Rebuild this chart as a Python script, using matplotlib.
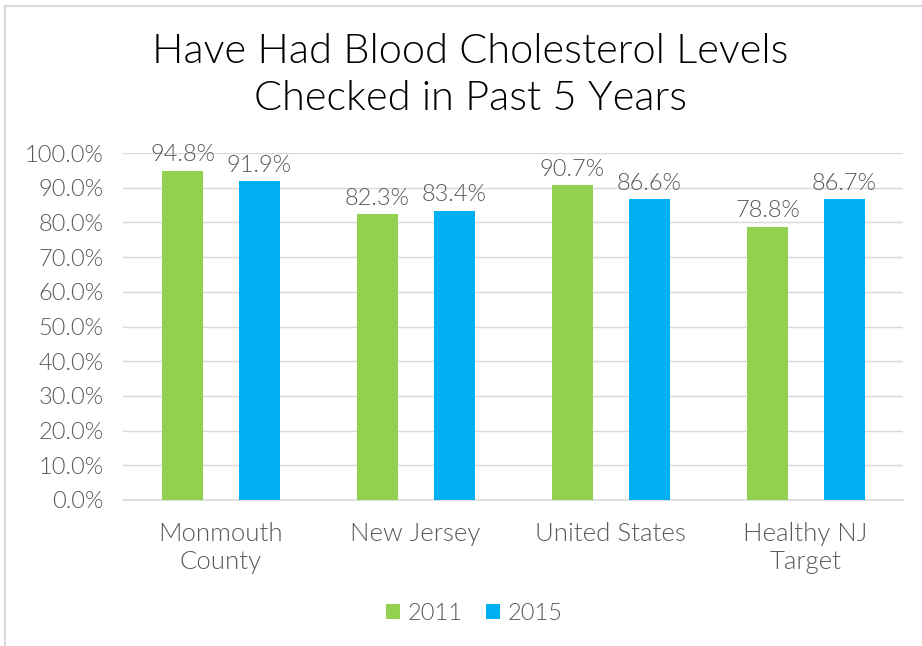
import numpy as np
import matplotlib.pyplot as plt
import matplotlib.patches as mpatches

# data
categories = ["Monmouth\nCounty", "New Jersey", "United States", "Healthy NJ\nTarget"]
vals_2011 = [0.948, 0.823, 0.907, 0.788]
vals_2015 = [0.919, 0.834, 0.866, 0.867]
years = ["2011", "2015"]

green = "#92d050"
blue = "#00b0f0"
grey = "#595959"

plt.rcParams["font.family"] = ["Lato", "DejaVu Sans"]
plt.rcParams["font.weight"] = 300

fig = plt.figure(figsize=(9.22, 6.46), dpi=100)
ax = fig.add_axes([123 / 922, 1 - 500 / 646, 780 / 922, 347 / 646])

x = np.arange(len(categories))
w = 0.21
b1 = ax.bar(x - 0.195, vals_2011, w, color=green, label=years[0], zorder=3)
b2 = ax.bar(x + 0.2, vals_2015, w, color=blue, label=years[1], zorder=3)

for bars, vals in [(b1, vals_2011), (b2, vals_2015)]:
    for r, v in zip(bars, vals):
        ax.annotate(f"{v*100:.1f}%", (r.get_x() + r.get_width() / 2, v),
                    xytext=(0, 4), textcoords="offset points",
                    ha="center", va="bottom", fontsize=17, color=grey,
                    fontweight=300)

ax.set_xlim(-0.5, 3.5)
ax.set_ylim(0, 1)
ticks = np.arange(0, 1.01, 0.1)
ax.set_yticks(ticks)
ax.set_yticklabels([f"{t*100:.1f}%" for t in ticks], fontweight=300)
ax.set_xticks(x)
ax.set_xticklabels(categories, fontweight=300)
ax.tick_params(axis="both", length=0, labelsize=17, labelcolor=grey)
ax.tick_params(axis="x", labelsize=18.5, pad=16)
ax.tick_params(axis="y", pad=14)
ax.grid(axis="y", color="#d9d9d9", lw=1, zorder=0)
for s in ["top", "right", "left"]:
    ax.spines[s].set_visible(False)
ax.spines["bottom"].set_color("#d9d9d9")
ax.spines["bottom"].set_linewidth(1.2)

fig.text(470 / 922, 1 - 75 / 646, "Have Had Blood Cholesterol Levels\nChecked in Past 5 Years",
         ha="center", va="center", fontsize=30, color="black",
         fontweight=300, linespacing=1.35)

leg = fig.legend(loc="center", bbox_to_anchor=(474 / 922, 1 - 613 / 646), ncol=2,
                 frameon=False, fontsize=17, labelcolor=grey, handlelength=0.6,
                 handleheight=0.6, handletextpad=0.3, columnspacing=1.0)
for t in leg.get_texts():
    t.set_fontweight(300)

# outer chart frame (cropped)
fig.add_artist(mpatches.Rectangle((5 / 922, -0.1), 1.2, 1.1 - 6 / 646,
                                  transform=fig.transFigure, fill=False,
                                  ec="#d9d9d9", lw=1.5))

fig.savefig("out.png", dpi=100)
